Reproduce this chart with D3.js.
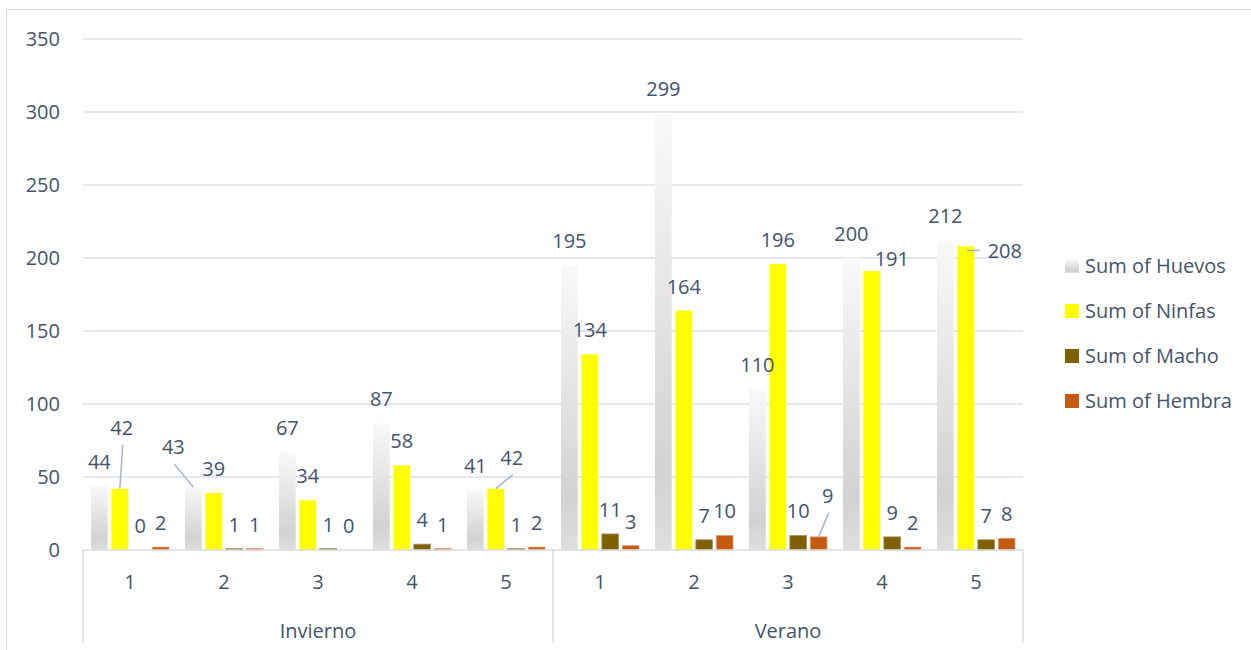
<!DOCTYPE html>
<html>
<head>
<meta charset="utf-8">
<script src="https://cdn.jsdelivr.net/npm/d3@7"></script>
<style>
  html, body { margin: 0; padding: 0; background: #ffffff; }
  svg { display: block; }
  text { font-family: "Open Sans", "Noto Sans", sans-serif; fill: #44546A; }
</style>
</head>
<body>
<svg id="chart" width="1251" height="650"></svg>
<script>
// ---- data ----
const seasons = ["Invierno", "Verano"];
const subCats = ["1", "2", "3", "4", "5"];
const seriesNames = ["Sum of Huevos", "Sum of Ninfas", "Sum of Macho", "Sum of Hembra"];
const huevos = [44, 43, 67, 87, 41, 195, 299, 110, 200, 212];
const ninfas = [42, 39, 34, 58, 42, 134, 164, 196, 191, 208];
const macho  = [0, 1, 1, 4, 1, 11, 7, 10, 9, 7];
const hembra = [2, 1, 0, 1, 2, 3, 10, 9, 2, 8];
const yTicks = [0, 50, 100, 150, 200, 250, 300, 350];

// label adjustments (pixel nudges for labels Excel moved), [categoryIndex, seriesIndex, dx, dy, leaderType]
const labelNudges = [
  [0, 1, 2, -37, "bottom"],
  [1, 0, -20, -16, "bottom"],
  [4, 1, 16, -7, "bottom"],
  [7, 3, 9, -17, "bottom"],
  [8, 1, 20, 12, null],
  [9, 1, 39, 29, "left"]
];

const seriesValues = [huevos, ninfas, macho, hembra];
const colors = ["url(#gradHuevos)", "#FFFF00", "#7F6000", "#C55A11"];
const strokes = ["none", "none", "#a89566", "#e0a07c"];

const catKeys = [];
seasons.forEach(s => subCats.forEach(c => catKeys.push(s + "|" + c)));

const svg = d3.select("#chart");

// gradient
const defs = svg.append("defs");
const grad = defs.append("linearGradient").attr("id", "gradHuevos")
  .attr("x1", 0).attr("y1", 0).attr("x2", 0).attr("y2", 1);
grad.append("stop").attr("offset", "0%").attr("stop-color", "#f9f9f9");
grad.append("stop").attr("offset", "82%").attr("stop-color", "#d2d2d2");
grad.append("stop").attr("offset", "100%").attr("stop-color", "#dedede");

// outer border
svg.append("rect").attr("x", 6.5).attr("y", 9.5).attr("width", 1260).attr("height", 660)
  .attr("fill", "none").attr("stroke", "#d9d9d9").attr("stroke-width", 1);

const plotLeft = 83, plotRight = 1023, plotTop = 39, plotBottom = 550;

const y = d3.scaleLinear().domain([0, 350]).range([plotBottom, plotTop]);
const x0 = d3.scaleBand().domain(catKeys).range([plotLeft, plotRight]).padding(0);
const bw = x0.bandwidth();
const x1 = d3.scaleBand().domain(d3.range(4)).range([bw * 0.085, bw * 0.915]).paddingInner(0.18).paddingOuter(0);

// gridlines
svg.append("g").selectAll("line").data(yTicks.filter(t => t > 0)).join("line")
  .attr("x1", plotLeft).attr("x2", plotRight)
  .attr("y1", d => y(d)).attr("y2", d => y(d))
  .attr("stroke", "#dde1e8").attr("stroke-width", 1.5);

// y labels
svg.append("g").selectAll("text").data(yTicks).join("text")
  .attr("x", 60).attr("y", d => y(d)).attr("dy", "0.35em")
  .attr("text-anchor", "end").attr("font-size", 20).text(d => d);

// bars
const bars = [];
catKeys.forEach((k, ci) => {
  seriesValues.forEach((vals, si) => {
    bars.push({ k, ci, si, v: vals[ci] });
  });
});

svg.append("g").selectAll("rect").data(bars.filter(d => d.v > 0)).join("rect")
  .attr("x", d => x0(d.k) + x1(d.si))
  .attr("width", x1.bandwidth())
  .attr("y", d => y(d.v))
  .attr("height", d => y(0) - y(d.v))
  .attr("fill", d => colors[d.si])
  .attr("stroke", d => strokes[d.si])
  .attr("stroke-width", d => strokes[d.si] === "none" ? 0 : 0.8);

// axis lines
const axisColor = "#d9dde4";
svg.append("line").attr("x1", plotLeft).attr("x2", plotRight).attr("y1", plotBottom).attr("y2", plotBottom)
  .attr("stroke", axisColor).attr("stroke-width", 1.5);
const sepXs = [plotLeft, x0(seasons[1] + "|1"), plotRight];
svg.append("g").selectAll("line").data(sepXs).join("line")
  .attr("x1", d => d).attr("x2", d => d).attr("y1", plotBottom).attr("y2", 643)
  .attr("stroke", axisColor).attr("stroke-width", 1.5);

// category labels
svg.append("g").selectAll("text").data(catKeys).join("text")
  .attr("x", d => x0(d) + bw / 2).attr("y", 582).attr("dy", "0.35em")
  .attr("text-anchor", "middle").attr("font-size", 20)
  .text(d => d.split("|")[1]);

svg.append("g").selectAll("text").data(seasons).join("text")
  .attr("x", s => (x0(s + "|1") + x0(s + "|5") + bw) / 2).attr("y", 631).attr("dy", "0.35em")
  .attr("text-anchor", "middle").attr("font-size", 20).text(s => s);

// data labels
const labelG = svg.append("g");
bars.forEach(d => {
  const xc = x0(d.k) + x1(d.si) + x1.bandwidth() / 2;
  const topY = y(d.v);
  let lx = xc, ly = topY - 24;
  const n = labelNudges.find(a => a[0] === d.ci && a[1] === d.si);
  if (n) {
    lx += n[2]; ly += n[3];
    if (n[4] === "bottom") {
      labelG.append("line").attr("x1", lx + 1).attr("y1", ly + 17)
        .attr("x2", xc).attr("y2", topY)
        .attr("stroke", "#a9b6c8").attr("stroke-width", 1.5);
    } else if (n[4] === "left") {
      labelG.append("line").attr("x1", xc + 1).attr("y1", ly - 1)
        .attr("x2", lx - 25).attr("y2", ly - 1)
        .attr("stroke", "#a9b6c8").attr("stroke-width", 1.5);
    }
  }
  labelG.append("text").attr("x", lx).attr("y", ly).attr("dy", "0.35em")
    .attr("text-anchor", "middle").attr("font-size", 20).text(d.v);
});

// legend
const legend = svg.append("g");
seriesNames.forEach((name, i) => {
  const cy = 266 + i * 45;
  legend.append("rect").attr("x", 1065).attr("y", cy - 7).attr("width", 14).attr("height", 14)
    .attr("fill", colors[i]);
  legend.append("text").attr("x", 1085).attr("y", cy).attr("dy", "0.35em")
    .attr("font-size", 20).text(name);
});
</script>
</body>
</html>
